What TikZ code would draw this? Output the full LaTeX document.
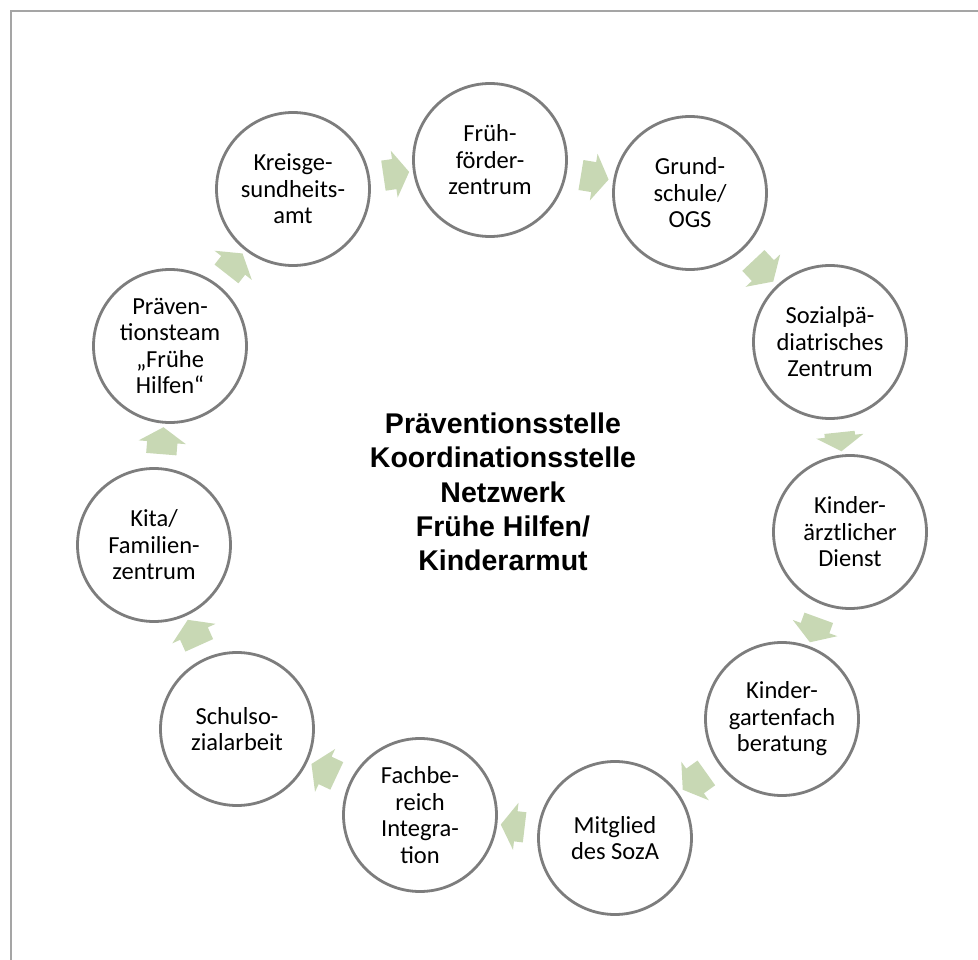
\documentclass[tikz,border=0pt]{standalone}
\usepackage{fontspec}
\setmainfont{Carlito}
\newfontfamily\centralfont{Liberation Sans}
\usetikzlibrary{shapes.arrows,calc}
\definecolor{ringgray}{RGB}{125,125,125}
\definecolor{arrowgreen}{RGB}{200,216,180}
\definecolor{framegray}{RGB}{165,165,165}
\newcommand\shaft{\rule{0pt}{30pt}}
\begin{document}
\begin{tikzpicture}[x=1pt,y=-1pt,
  member/.style={circle, draw=ringgray, line width=2.8pt, fill=white,
    minimum size=153pt, inner sep=0pt, align=center,
    font=\fontsize{24.5}{26.5}\selectfont, text=black},
  flowarrow/.style={single arrow, fill=arrowgreen, draw=none,
    minimum width=47pt, single arrow head extend=8.5pt,
    single arrow tip angle=115, inner sep=0pt, outer sep=0pt,
    sloped, allow upside down, midway},
  hubtext/.style={align=center, text=black,
    font=\centralfont\bfseries\fontsize{28.5}{34.4}\selectfont}
  ]
\useasboundingbox (0,0) rectangle (978,960);
\draw[framegray, line width=2pt] (11,960) -- (11,11) -- (978,11);

\node[member] (kreis)  at (293,189) {Kreisge-\\sundheits-\\amt};
\node[member] (frueh)  at (490,160) {Früh-\\förder-\\zentrum};
\node[member] (grund)  at (690,193) {Grund-\\schule/\\OGS};
\node[member] (spz)    at (830,342) {Sozialpä-\\diatrisches\\Zentrum};
\node[member] (kad)    at (850,532) {Kinder-\\ärztlicher\\Dienst};
\node[member] (kgf)    at (782,719) {Kinder-\\gartenfach\\beratung};
\node[member] (mitgl)  at (615,838) {Mitglied\\des SozA};
\node[member] (fbi)    at (420,815) {Fachbe-\\reich\\Integra-\\tion};
\node[member] (ssa)    at (237,729) {Schulso-\\zialarbeit};
\node[member] (kita)   at (154,545) {Kita/\\Familien-\\zentrum};
\node[member] (pteam)  at (170,346) {Präven-\\tionsteam\\„Frühe\\Hilfen“};

\node[hubtext] (hub) at (503,492) {Präventionsstelle\\Koordinationsstelle\\Netzwerk\\Frühe Hilfen/\\Kinderarmut};

\path (kreis) -- (frueh) node[flowarrow, minimum height=26pt] {\shaft};
\path (frueh) -- (grund) node[flowarrow, minimum height=28pt] {\shaft};
\path (grund) -- (spz)   node[flowarrow, minimum height=29pt] {\shaft};
\path (spz)   -- (kad)   node[flowarrow, minimum height=19pt] {\shaft};
\path (kad)   -- (kgf)   node[flowarrow, minimum height=26pt] {\shaft};
\path (kgf)   -- (mitgl) node[flowarrow, minimum height=29pt] {\shaft};
\path (mitgl) -- (fbi)   node[flowarrow, minimum height=24pt] {\shaft};
\path (fbi)   -- (ssa)   node[flowarrow, minimum height=28pt] {\shaft};
\path (ssa)   -- (kita)  node[flowarrow, minimum height=28pt] {\shaft};
\path (kita)  -- (pteam) node[flowarrow, minimum height=27pt] {\shaft};
\path (pteam) -- (kreis) node[flowarrow, minimum height=26pt] {\shaft};
\end{tikzpicture}
\end{document}
